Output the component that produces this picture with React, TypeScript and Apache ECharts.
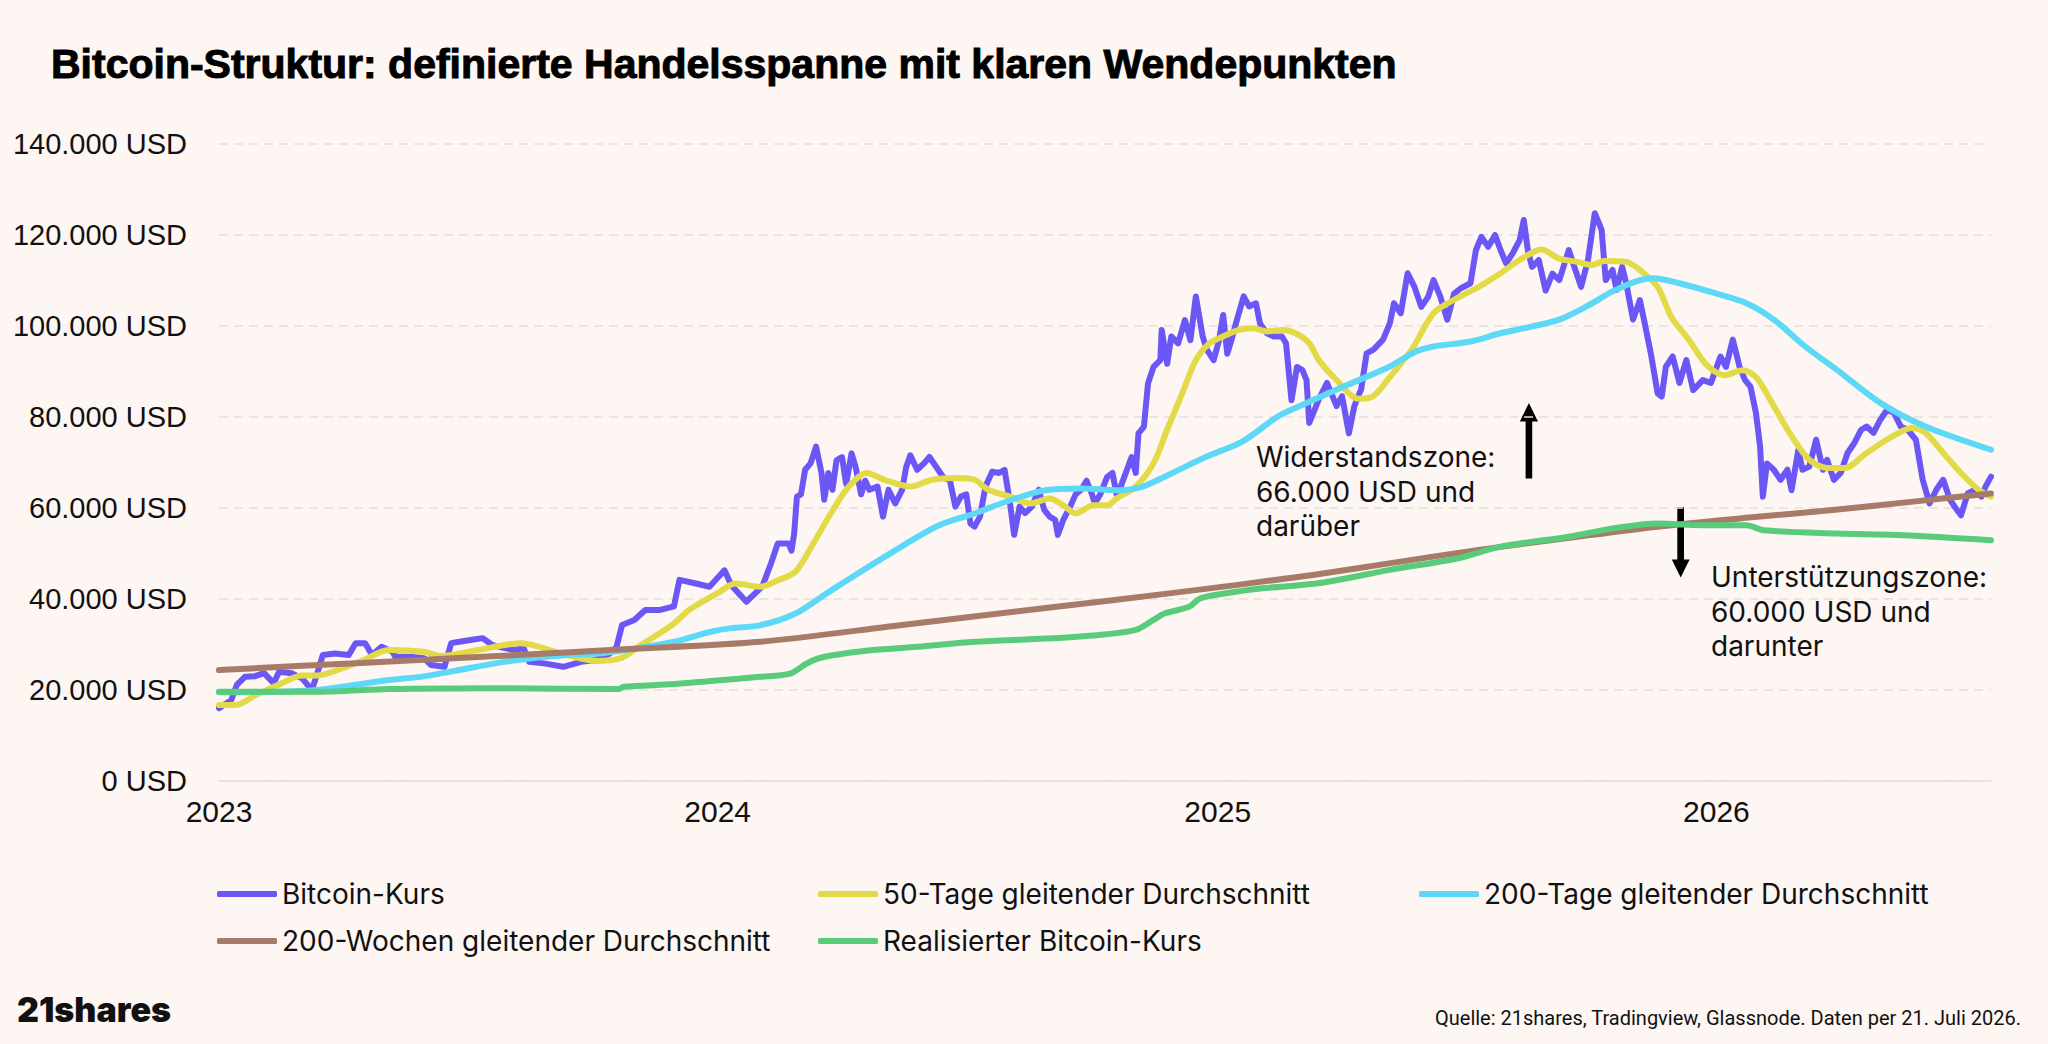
import React, { useEffect, useRef } from "react";
import * as echarts from "echarts";

// Day offsets from 2023-01-01, values in thousand USD
const bitcoinKurs: [number, number][] = [
  [0,16.0],[9,17.8],[13,21.1],[19,22.9],[26,23.0],[33,23.7],[40,21.5],[44,24.0],[53,23.7],[61,22.5],
  [68,20.0],[72,23.7],[76,27.7],[85,28.0],[95,27.7],[100,30.3],[107,30.3],[112,27.7],[119,29.5],[127,28.4],
  [129,27.3],[140,27.3],[150,27.0],[155,25.5],[165,25.1],[170,30.3],[176,30.6],[184,31.0],[193,31.4],[200,29.9],
  [205,29.5],[216,28.8],[223,29.2],[227,26.2],[239,25.8],[252,25.1],[265,26.2],[276,26.6],[286,28.0],[291,29.5],
  [295,34.3],[304,35.4],[312,37.6],[323,37.6],[333,38.4],[337,44.2],[349,43.4],[359,42.7],[370,46.3],[375,43.0],
  [386,39.4],[396,42.3],[398,43.0],[404,47.8],[409,52.2],[417,52.2],[419,50.6],[421,54.4],[423,62.5],[426,63.0],
  [429,68.4],[433,69.8],[437,73.5],[441,67.7],[443,61.8],[446,67.7],[449,64.0],[452,70.5],[456,71.2],[459,65.3],
  [463,72.0],[466,69.0],[470,63.0],[473,66.0],[476,64.0],[482,64.7],[486,58.1],[490,64.0],[495,61.0],[500,64.0],
  [503,69.0],[506,71.6],[511,68.4],[516,69.8],[520,71.2],[525,69.0],[530,66.8],[535,66.0],[539,60.3],[543,62.5],
  [547,63.0],[550,56.6],[553,55.9],[557,58.1],[561,64.7],[566,68.0],[571,67.7],[575,68.4],[579,61.0],[582,54.1],
  [586,60.3],[590,58.9],[595,60.3],[600,64.0],[604,59.6],[608,58.1],[612,57.4],[614,54.1],[618,57.4],[623,60.3],
  [627,63.0],[631,64.0],[635,66.0],[639,63.0],[641,61.0],[645,63.0],[650,66.8],[654,67.7],[657,63.0],[660,64.7],
  [668,71.2],[671,67.7],[673,76.4],[677,77.9],[680,87.4],[684,91.0],[689,92.5],[690,99.1],[694,91.7],[697,97.7],
  [702,96.2],[707,101.3],[711,96.9],[715,106.5],[720,97.7],[723,94.8],[728,92.5],[732,96.9],[735,102.4],[738,93.9],
  [741,96.9],[745,101.3],[750,106.5],[754,104.3],[759,105.0],[762,100.5],[767,98.4],[772,97.7],[778,97.7],[781,96.2],
  [785,83.7],[789,91.0],[793,90.3],[796,88.1],[798,78.7],[805,83.9],[811,87.5],[818,82.4],[822,84.6],[827,76.4],
  [831,82.4],[836,86.1],[840,94.0],[845,94.8],[852,97.0],[857,100.6],[860,105.0],[865,102.8],[870,111.6],[875,108.6],
  [880,104.2],[885,106.4],[889,110.1],[894,106.4],[899,101.4],[904,107.1],[909,108.3],[916,109.4],[920,116.7],[924,119.6],
  [929,117.4],[934,120.0],[938,116.7],[942,113.8],[947,116.0],[952,118.9],[955,123.3],[958,116.7],[961,113.0],[966,114.5],
  [971,107.8],[976,111.5],[981,110.1],[988,116.7],[992,113.0],[997,108.6],[1002,114.5],[1007,124.8],[1012,121.1],[1015,110.1],
  [1020,112.3],[1023,107.9],[1027,113.0],[1030,109.4],[1035,101.4],[1040,105.7],[1043,101.4],[1048,94.0],[1053,85.2],[1056,84.5],
  [1059,91.0],[1064,93.3],[1069,87.5],[1074,92.5],[1079,85.9],[1086,88.1],[1092,87.5],[1099,93.3],[1103,91.0],[1108,97.0],
  [1113,91.0],[1117,88.1],[1121,86.6],[1125,80.8],[1128,73.5],[1130,62.5],[1133,69.8],[1138,68.4],[1143,66.2],[1148,68.4],
  [1151,63.9],[1156,72.8],[1159,68.4],[1164,69.1],[1169,75.0],[1174,68.4],[1177,70.6],[1182,66.2],[1187,67.7],[1192,72.1],
  [1197,74.3],[1202,77.2],[1206,77.9],[1211,76.5],[1216,79.4],[1221,81.6],[1226,80.9],[1231,77.9],[1236,77.2],[1242,75.0],
  [1247,66.2],[1252,61.0],[1257,64.0],[1262,66.2],[1267,61.8],[1272,59.6],[1275,58.4],[1280,63.2],[1285,64.0],[1290,62.5],
  [1293,64.7],[1297,66.9],
];

const ma50: [number, number][] = [
  [0,16.7],[12,16.7],[27,18.9],[46,21.5],[61,23.2],[72,23.2],[88,24.5],[106,26.6],[124,28.8],[150,28.4],
  [163,27.5],[190,28.8],[221,30.3],[229,29.9],[255,27.7],[276,26.4],[294,27.0],[307,29.5],[333,34.6],[344,37.6],
  [365,41.3],[378,43.4],[396,42.7],[409,44.1],[422,46.0],[435,52.2],[448,58.9],[461,64.7],[474,67.7],[487,66.2],
  [506,64.7],[522,66.2],[540,66.6],[553,66.2],[563,64.0],[579,62.5],[594,61.0],[608,62.1],[618,60.6],[627,58.8],
  [640,60.6],[650,60.6],[657,62.1],[671,64.7],[684,69.8],[694,77.2],[705,85.2],[715,92.5],[725,96.2],[735,97.7],
  [746,99.1],[757,99.5],[767,98.8],[778,99.1],[788,98.4],[798,96.2],[805,92.5],[818,88.1],[834,84.0],[844,84.4],
  [857,88.8],[873,94.8],[889,102.8],[906,106.1],[922,108.6],[938,111.6],[952,114.5],[968,116.8],[981,114.8],[994,114.1],
  [1005,113.4],[1014,114.3],[1030,114.1],[1040,112.3],[1053,108.6],[1063,102.0],[1076,96.9],[1089,91.4],[1102,89.2],[1115,90.3],
  [1125,88.8],[1138,82.4],[1151,75.8],[1164,70.6],[1177,68.8],[1190,68.8],[1206,72.1],[1223,75.4],[1239,77.6],[1249,76.5],
  [1262,72.1],[1275,67.7],[1288,64.0],[1297,62.5],
];

const ma200d: [number, number][] = [
  [0,19.5],[40,19.6],[72,20.0],[99,21.1],[124,22.2],[150,23.0],[176,24.4],[203,25.9],[229,27.0],[255,27.7],
  [281,28.1],[307,29.2],[333,30.6],[360,32.8],[375,33.6],[396,34.2],[422,36.8],[448,41.9],[475,47.0],[501,51.8],
  [527,56.2],[553,58.8],[579,61.7],[605,63.9],[631,64.3],[658,63.9],[676,64.7],[697,67.6],[723,71.3],[749,74.6],
  [775,80.1],[791,82.4],[824,86.8],[857,91.1],[876,94.4],[889,95.5],[916,96.6],[938,98.4],[961,99.9],[981,101.4],
  [1001,104.3],[1020,107.6],[1040,110.1],[1050,110.5],[1069,109.4],[1095,107.2],[1118,105.0],[1138,101.4],[1161,95.5],[1184,90.4],
  [1216,83.1],[1249,77.9],[1297,72.8],
];

const ma200w: [number, number][] = [
  [0,24.4],[100,25.9],[200,27.4],[300,29.0],[396,30.6],[500,34.3],[605,38.0],[700,41.4],[791,44.9],[860,48.0],
  [922,50.8],[990,53.5],[1053,55.9],[1120,57.9],[1183,59.6],[1240,61.4],[1297,63.2],
];

const realisiert: [number, number][] = [
  [0,19.6],[72,19.6],[124,20.2],[203,20.4],[293,20.2],[296,20.7],[333,21.3],[360,22.0],[396,22.9],[418,23.6],
  [430,25.8],[438,26.9],[448,27.6],[475,28.7],[511,29.5],[553,30.6],[605,31.3],[644,32.1],[671,33.2],[684,35.4],
  [692,36.8],[710,38.3],[718,40.1],[736,41.2],[762,42.3],[806,43.5],[857,46.4],[906,48.9],[938,51.5],[988,53.7],
  [1020,55.5],[1053,56.6],[1086,56.2],[1118,56.2],[1131,55.1],[1184,54.4],[1233,54.0],[1297,52.9],
];

const yearTicks = [2023, 2024, 2025, 2026];
const lastDay = 1297; // 21 July 2026

const seriesNames = [
  "Bitcoin-Kurs",
  "50-Tage gleitender Durchschnitt",
  "200-Tage gleitender Durchschnitt",
  "200-Wochen gleitender Durchschnitt",
  "Realisierter Bitcoin-Kurs",
];
const seriesColors = ["#6B57F5", "#E3DA47", "#5DD8F7", "#A87A68", "#58CC7A"];
const seriesData = [bitcoinKurs, ma50, ma200d, ma200w, realisiert];

const dayOfYearStart = (y: number) => Math.round((Date.UTC(y, 0, 1) - Date.UTC(2023, 0, 1)) / 86400000);

const W = 2048;
const H = 1044;
const BG = "#FDF6F3";

export default function App() {
  const ref = useRef<HTMLDivElement>(null);
  useEffect(() => {
    if (!ref.current) return;
    const chart = echarts.init(ref.current, undefined, { renderer: "svg", width: W, height: H });
    const yearDays = yearTicks.map(dayOfYearStart);
    const legendPos = [
      { left: 217, top: 880 },
      { left: 818, top: 880 },
      { left: 1419, top: 880 },
      { left: 217, top: 927 },
      { left: 818, top: 927 },
    ];
    const option: any = {
      animation: false,
      backgroundColor: BG,
      textStyle: { fontFamily: "Inter, 'Liberation Sans', sans-serif" },
      grid: { left: 219, right: 57, top: 144, bottom: 263, containLabel: false },
      xAxis: {
        type: "value",
        min: 0,
        max: lastDay,
        axisLine: { show: true, onZero: false, lineStyle: { color: "#E4DFDD", width: 1.5 } },
        axisTick: { show: false },
        splitLine: { show: false },
        axisLabel: {
          customValues: yearDays,
          formatter: (v: number) => {
            const i = yearDays.indexOf(Math.round(v));
            return i >= 0 ? String(yearTicks[i]) : "";
          },
          fontFamily: "'Liberation Sans', Arial, sans-serif",
          fontSize: 30,
          color: "#111111",
          margin: 15,
          hideOverlap: false,
        },
      },
      yAxis: {
        type: "value",
        min: 0,
        max: 140,
        interval: 20,
        axisLine: { show: false },
        axisTick: { show: false },
        splitLine: { show: true, lineStyle: { color: "#E4DFDD", width: 1.5, type: [9, 6] } },
        axisLabel: {
          formatter: (v: number) => (v === 0 ? "0 USD" : `${v}.000 USD`),
          fontFamily: "'Liberation Sans', Arial, sans-serif",
          fontSize: 29,
          color: "#111111",
          margin: 32,
        },
      },
      legend: seriesNames.map((n, i) => ({
        data: [n],
        left: legendPos[i].left,
        top: legendPos[i].top,
        padding: 0,
        icon: "roundRect",
        itemWidth: 60,
        itemHeight: 6,
        itemGap: 0,
        selectedMode: false,
        textStyle: { fontFamily: "Inter, sans-serif", fontSize: 28, color: "#111111" },
      })),
      series: seriesNames.map((n, i) => ({
        name: n,
        type: "line",
        showSymbol: false,
        symbol: "none",
        smooth: i === 0 ? false : 0.3,
        color: seriesColors[i],
        lineStyle: { color: seriesColors[i], width: 6, cap: "round", join: "round" },
        data: seriesData[i],
        z: 2 + i,
      })),
      graphic: [
        {
          type: "text",
          x: 51,
          y: 64,
          style: {
            text: "Bitcoin-Struktur: definierte Handelsspanne mit klaren Wendepunkten",
            fontFamily: "'Liberation Sans', Arial, sans-serif",
            fontWeight: "bold",
            fontSize: 41,
            fill: "#000000",
            stroke: "#000000",
            lineWidth: 1,
            align: "left",
            verticalAlign: "middle",
          },
        },
        {
          type: "text",
          x: 1256,
          y: 439.75,
          style: {
            text: "Widerstandszone:\n66.000 USD und\ndarüber",
            fontFamily: "Inter, sans-serif",
            fontSize: 28,
            lineHeight: 34.5,
            fill: "#111111",
            align: "left",
            verticalAlign: "top",
          },
        },
        {
          type: "text",
          x: 1711,
          y: 559.75,
          style: {
            text: "Unterstützungszone:\n60.000 USD und\ndarunter",
            fontFamily: "Inter, sans-serif",
            fontSize: 28,
            lineHeight: 34.5,
            fill: "#111111",
            align: "left",
            verticalAlign: "top",
          },
        },
        { type: "rect", shape: { x: 1525.6, y: 418, width: 6.6, height: 60.5 }, style: { fill: "#000" } },
        { type: "polygon", shape: { points: [[1528.9, 403], [1519.8, 421.5], [1538, 421.5]] }, style: { fill: "#000" } },
        { type: "rect", shape: { x: 1677.3, y: 507.3, width: 6.7, height: 55 }, style: { fill: "#000" } },
        { type: "polygon", shape: { points: [[1680.7, 577.5], [1671.8, 559.5], [1689.6, 559.5]] }, style: { fill: "#000" } },
        {
          type: "text",
          x: 17,
          y: 1009,
          style: {
            text: "21shares",
            fontFamily: "Inter, sans-serif",
            fontWeight: 900,
            fontSize: 34,
            fill: "#111111",
            align: "left",
            verticalAlign: "middle",
          },
        },
        {
          type: "text",
          x: 2021,
          y: 1018,
          style: {
            text: "Quelle: 21shares, Tradingview, Glassnode. Daten per 21. Juli 2026.",
            fontFamily: "'Liberation Sans Narrow', 'Roboto', sans-serif",
            fontSize: 20,
            fill: "#111111",
            align: "right",
            verticalAlign: "middle",
          },
        },
      ],
    };
    chart.setOption(option);
    return () => chart.dispose();
  }, []);
  return (
    <div
      ref={ref}
      style={{ position: "fixed", left: 0, top: 0, width: W, height: H, background: BG }}
    />
  );
}
